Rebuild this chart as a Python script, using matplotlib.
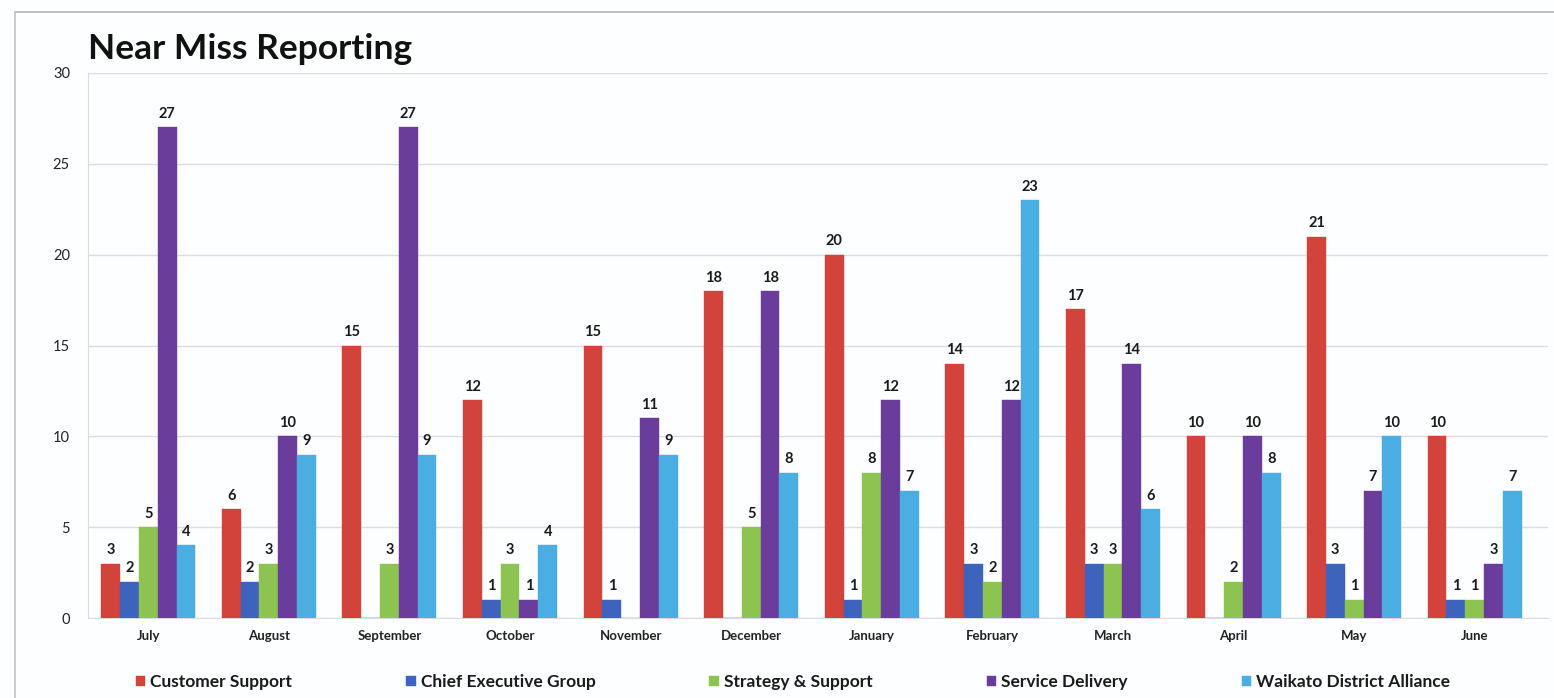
import matplotlib
matplotlib.use("Agg")
import matplotlib.pyplot as plt
import numpy as np
from matplotlib.lines import Line2D

months = ["July", "August", "September", "October", "November", "December",
          "January", "February", "March", "April", "May", "June"]
customer_support = [3, 6, 15, 12, 15, 18, 20, 14, 17, 10, 21, 10]
chief_executive_group = [2, 2, 0, 1, 1, 0, 1, 3, 3, 0, 3, 1]
strategy_support = [5, 3, 3, 3, 0, 5, 8, 2, 3, 2, 1, 1]
service_delivery = [27, 10, 27, 1, 11, 18, 12, 12, 14, 10, 7, 3]
waikato_alliance = [4, 9, 9, 4, 9, 8, 7, 23, 6, 8, 10, 7]

series_names = ["Customer Support", "Chief Executive Group", "Strategy & Support",
                "Service Delivery", "Waikato District Alliance"]
series_values = [customer_support, chief_executive_group, strategy_support,
                 service_delivery, waikato_alliance]
colors = ["#D2433C", "#3E63BD", "#8DC451", "#6A3C9B", "#4BAEE2"]

font = "Lato"
plt.rcParams["font.family"] = [font, "DejaVu Sans"]

W, H = 1554, 698
fig = plt.figure(figsize=(W / 100, H / 100), dpi=100)
fig.patch.set_facecolor("#FDFEFF")

# outer chart frame: top and left edges
fig.add_artist(Line2D([15 / W, 1.0], [1 - 12 / H, 1 - 12 / H],
                      transform=fig.transFigure, color="#B8BCC2", linewidth=1.3))
fig.add_artist(Line2D([15 / W, 15 / W], [0, 1 - 12 / H],
                      transform=fig.transFigure, color="#C4C8CE", linewidth=1.3))

ax = fig.add_axes([88 / W, 1 - 618 / H, (1548 - 88) / W, (618 - 73) / H])
ax.set_facecolor("none")

x = np.arange(len(months))
width = 0.156
for i, (name, vals, c) in enumerate(zip(series_names, series_values, colors)):
    pos = x + (i - 2) * width
    bars = ax.bar(pos, vals, width=width, color=c, label=name, zorder=3,
                  edgecolor=c, linewidth=0.3)
    for b, v in zip(bars, vals):
        if v > 0:
            ax.text(b.get_x() + b.get_width() / 2, v + 0.35, str(v),
                    ha="center", va="bottom", fontsize=10.5, fontweight="bold",
                    color="#1A1A1A", zorder=4)

ax.set_xlim(-0.5, len(months) - 0.5 + 13 / 120.6)
ax.set_ylim(0, 30)
ax.set_yticks(range(0, 31, 5))
ax.yaxis.grid(True, color="#D9DCE0", linewidth=1.0, zorder=0)
ax.set_xticks(x)
ax.set_xticklabels(months, fontsize=9.5, fontweight="bold", color="#222222")
ax.tick_params(axis="x", length=0, pad=9)
ax.tick_params(axis="y", length=0, pad=13, labelsize=10.5, labelcolor="#222222")
for s in ["top", "right"]:
    ax.spines[s].set_visible(False)
ax.spines["left"].set_color("#D9DCE0")
ax.spines["bottom"].set_color("#D9DCE0")

fig.text(88 / W, 1 - 49 / H, "Near Miss Reporting", fontsize=25.5,
         fontweight="bold", color="#111111", ha="left", va="center")

leg = fig.legend(loc="center", bbox_to_anchor=(793 / W, 1 - 682 / H), ncol=5,
                 frameon=False, handlelength=0.55, handleheight=0.55,
                 handletextpad=0.3, columnspacing=6.55,
                 prop={"weight": "bold", "size": 12.5, "family": font})
for t in leg.get_texts():
    t.set_color("#1A1A1A")

fig.savefig("out.png", dpi=100, facecolor=fig.get_facecolor())
